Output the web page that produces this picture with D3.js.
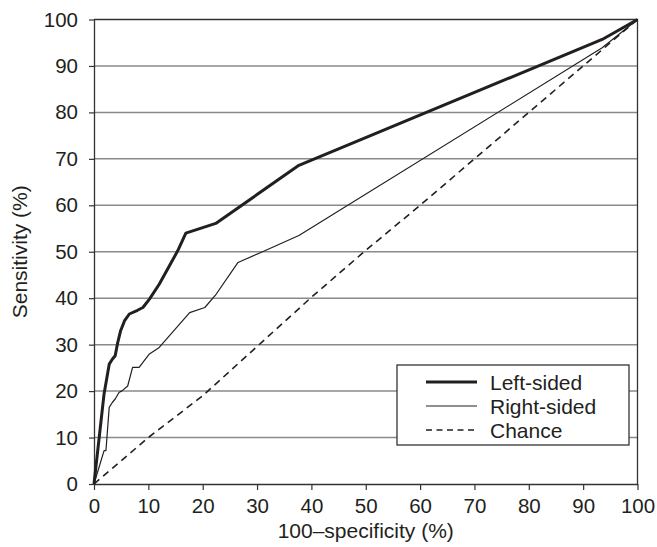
<!DOCTYPE html>
<html>
<head>
<meta charset="utf-8">
<script src="https://cdn.jsdelivr.net/npm/d3@7"></script>
<style>
  body { margin: 0; background: #fff; }
  text { font-family: "Liberation Sans", Arial, sans-serif; fill: #231f20; }
</style>
</head>
<body>
<svg id="chart" width="657" height="547"></svg>
<script>
// ROC curves: [100-specificity, sensitivity]
const leftSided = [[0,0],[1.85,19.4],[2.8,25.8],[3.4,26.9],[3.9,27.6],[4.3,30.1],[4.9,33],[5.6,35.1],
  [6.5,36.6],[8,37.4],[9,38],[10.2,39.8],[12,43],[15.4,50.2],[16.9,54],[22.4,56.1],[37.7,68.6],[93.5,95.7],[100,100]];
const rightSided = [[0,0],[1.85,7.2],[2.2,7.2],[2.8,16.5],[3.4,17.6],[3.9,18.3],[4.6,19.7],[5.2,20.1],
  [6.2,21.1],[7.1,25.1],[8.3,25.1],[10.2,28],[12,29.4],[17.6,36.9],[20.4,38],[22.5,40.9],[26.5,47.7],
  [30.6,49.8],[37.7,53.5],[93.5,93.9],[100,100]];
const chance = [[0,0],[10,10],[12,11.8],[20,19],[30,29.6],[40,40.2],[50,50.3],[60,60],[70,70],[80,80],[90,90],[100,100]];
const ticks = d3.range(0, 101, 10);
const legendNames = ["Left-sided", "Right-sided", "Chance"];

const svg = d3.select("#chart");
const margin = {left: 94, right: 19.5, top: 19.5, bottom: 63};
const W = 657, H = 547;
const x = d3.scaleLinear().domain([0, 100]).range([margin.left, W - margin.right]);
const y = d3.scaleLinear().domain([0, 100]).range([H - margin.bottom, margin.top]);
const font = "'Liberation Sans', Arial, sans-serif";

// horizontal grid
svg.append("g").selectAll("line").data(ticks.slice(1, -1)).enter().append("line")
  .attr("x1", x(0)).attr("x2", x(100))
  .attr("y1", d => y(d)).attr("y2", d => y(d))
  .attr("stroke", "#8a8a8a").attr("stroke-width", 1.5);

// frame top and right
svg.append("path")
  .attr("d", `M${x(0)},${y(100)}H${x(100)}V${y(0)}`)
  .attr("fill", "none").attr("stroke", "#333").attr("stroke-width", 1.3);

const xAxis = svg.append("g").attr("transform", `translate(0,${y(0)})`)
  .call(d3.axisBottom(x).tickValues(ticks).tickSize(6).tickPadding(8).tickSizeOuter(0));
const yAxis = svg.append("g").attr("transform", `translate(${x(0)},0)`)
  .call(d3.axisLeft(y).tickValues(ticks).tickSize(5).tickPadding(11).tickSizeOuter(0));
[xAxis, yAxis].forEach(a => {
  a.attr("font-size", null).attr("font-family", null);
  a.select(".domain").attr("stroke", "#333").attr("stroke-width", 1.3);
  a.selectAll(".tick line").attr("stroke", "#333").attr("stroke-width", 1.2);
  a.selectAll("text").style("font-size", "20.5px").style("font-family", font).attr("fill", "#231f20");
});

svg.append("text").attr("x", (x(0) + x(100)) / 2).attr("y", 538)
  .attr("text-anchor", "middle").style("font-size", "21px").text("100\u2013specificity (%)");
svg.append("text").attr("transform", `translate(27,${(y(0) + y(100)) / 2}) rotate(-90)`)
  .attr("text-anchor", "middle").style("font-size", "21px").text("Sensitivity (%)");

const line = d3.line().x(d => x(d[0])).y(d => y(d[1]));
const styles = [
  {w: 3, dash: null},
  {w: 1.2, dash: null},
  {w: 1.6, dash: "7,5"}
];
[leftSided, rightSided, chance].forEach((s, i) => {
  svg.append("path").datum(s).attr("d", line)
    .attr("fill", "none").attr("stroke", "#231f20")
    .attr("stroke-width", styles[i].w)
    .attr("stroke-dasharray", styles[i].dash)
    .attr("stroke-linejoin", "round");
});

// legend
const lg = svg.append("g");
lg.append("rect").attr("x", 397).attr("y", 365).attr("width", 232).attr("height", 80)
  .attr("fill", "#fff").attr("stroke", "#333").attr("stroke-width", 1.3);
legendNames.forEach((n, i) => {
  const cy = 382 + i * 24;
  lg.append("line").attr("x1", 426).attr("x2", 477).attr("y1", cy).attr("y2", cy)
    .attr("stroke", "#231f20").attr("stroke-width", styles[i].w)
    .attr("stroke-dasharray", styles[i].dash ? "6,4.5" : null);
  lg.append("text").attr("x", 490).attr("y", cy + 7.5).style("font-size", "21px").text(n);
});
</script>
</body>
</html>
